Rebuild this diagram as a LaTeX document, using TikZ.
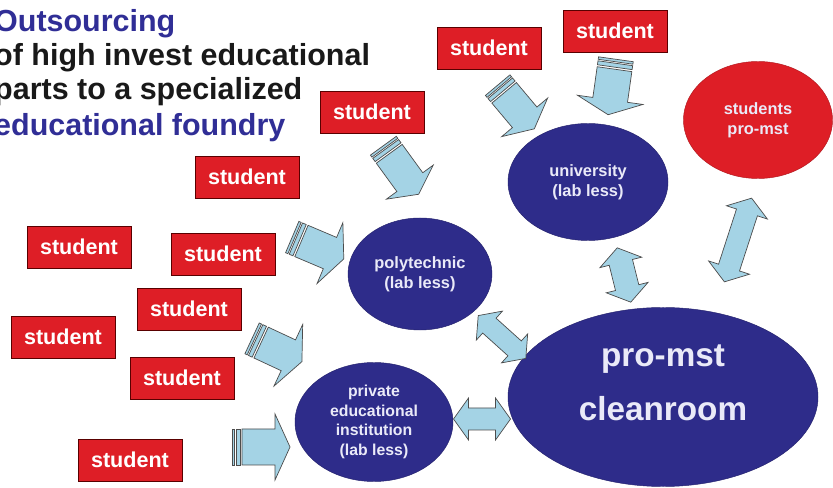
\documentclass[tikz,border=0pt]{standalone}
\usepackage{fontspec}
\setmainfont{Liberation Sans}
\usetikzlibrary{shapes.geometric}
\definecolor{navy}{RGB}{46,44,138}
\definecolor{ttlblue}{RGB}{48,46,150}
\definecolor{boxred}{RGB}{222,30,38}
\definecolor{skyfill}{RGB}{164,211,229}
\definecolor{pale}{RGB}{234,234,248}
\tikzset{
  ttl/.style = {anchor=base west, inner sep=0pt,
    font=\bfseries\fontsize{26}{30}\selectfont},% title line
  stud/.style = {rectangle, fill=boxred, draw=red!35!black, line width=0.6pt,
    minimum width=3.12cm, minimum height=1.26cm, inner sep=0pt, text=white,
    font=\bfseries\fontsize{18.4}{22}\selectfont},% red student box
  inst/.style = {ellipse, fill=navy, draw=navy!80!black, inner sep=0pt,
    text=pale, align=center, font=\bfseries\fontsize{14}{17}\selectfont},% school
  hub/.style = {inst, minimum width=9.3cm, minimum height=5.37cm},% cleanroom
  hubtext/.style = {text=pale, align=center,
    font=\bfseries\fontsize{28.4}{46}\selectfont},
  arrline/.style = {fill=skyfill, draw=black!70, line width=0.6pt},
  pics/stripearr/.style n args={3}{code={% length, shaft half, head half
    \draw[arrline] (-#1/2,-#2) rectangle (-#1/2+2.5,#2);
    \draw[arrline] (-#1/2+4,-#2) rectangle (-#1/2+8,#2);
    \draw[arrline] (-#1/2+10,-#2) -- (#1/2-15,-#2) -- (#1/2-15,-#3)
      -- (#1/2,0) -- (#1/2-15,#3) -- (#1/2-15,#2) -- (-#1/2+10,#2) -- cycle;
  }},
  pics/twoway/.style n args={3}{code={% length, shaft half, head half
    \draw[arrline] (-#1/2,0) -- (-#1/2+15,#3) -- (-#1/2+15,#2) -- (#1/2-15,#2)
      -- (#1/2-15,#3) -- (#1/2,0) -- (#1/2-15,-#3) -- (#1/2-15,-#2)
      -- (-#1/2+15,-#2) -- (-#1/2+15,-#3) -- cycle;
  }}
}
\begin{document}
\begin{tikzpicture}[x=0.03cm, y=-0.03cm]
  \path[use as bounding box, fill=white] (0,0) rectangle (833,488);

  % title
  \node[ttl, ttlblue] (title1) at (-6,32) {Outsourcing};
  \node[ttl, black!90] (title2) at (-6,66) {of high invest educational};
  \node[ttl, black!90] (title3) at (-6,100) {parts to a specialized};
  \node[ttl, ttlblue] (title4) at (-6,136) {educational foundry};

  % schools and cleanroom
  \node[inst, minimum width=4.8cm, minimum height=3.51cm] (uni) at (588,182)
    {university\\(lab less)};
  \node[inst, minimum width=4.32cm, minimum height=3.36cm] (poly) at (420,274)
    {polytechnic\\(lab less)};
  \node[inst, minimum width=4.74cm, minimum height=3.57cm,
    font=\bfseries\fontsize{13.5}{16.6}\selectfont] (priv) at (374,422)
    {private\\educational\\institution\\(lab less)};
  \node[inst, fill=boxred, draw=boxred!80!black, minimum width=4.47cm,
    minimum height=3.51cm] (spm) at (758,120) {students\\pro-mst};
  \node[hub, label={[hubtext, yshift=0.42cm]center:{pro-mst\\cleanroom}}]
    (clean) at (663,397) {};

  \foreach \n/\x/\y in {1/489/48, 2/615/31, 3/372/112, 4/247/177, 5/79/247,
      6/223/254, 7/189/309, 8/63/337, 9/182/378, 10/130/460}
    \node[stud] (s\n) at (\x,\y) {student};

  % arrows
  \foreach \n/\x/\y/\r/\l/\s/\h in {1/516/107/-50/57/16/30,
      2/612/87/-98/56/17.5/33, 3/401/170/-54/60/16/29, 4/318/248/-23/56/17/33,
      5/277/350/-25/55/17/34, 6/261/447/0/58/18/33}
    \pic[rotate=\r] (a\n) at (\x,\y) {stripearr={\l}{\s}{\h}};
  \foreach \n/\x/\y/\r/\l/\s/\h in {1/502/337/-42/64/10/19.5,
      2/482/419/0/57/11/21, 3/624/275/-76/56/12/21.5, 4/738/240/72/88/11/21.5}
    \pic[rotate=\r] (d\n) at (\x,\y) {twoway={\l}{\s}{\h}};
\end{tikzpicture}
\end{document}
